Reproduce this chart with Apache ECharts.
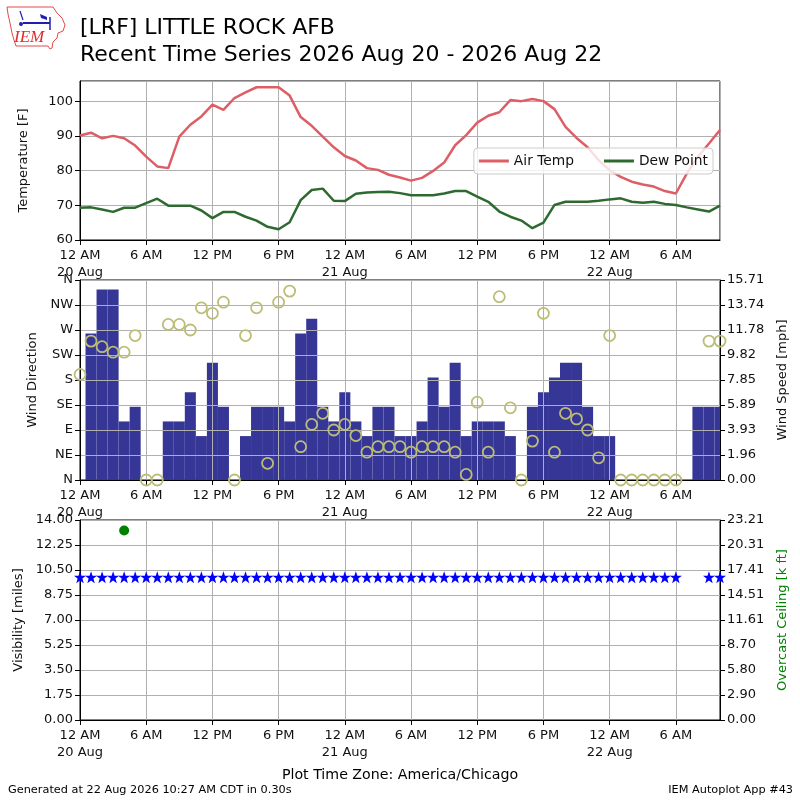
<!DOCTYPE html>
<html>
<head>
<meta charset="utf-8">
<script src="https://cdn.jsdelivr.net/npm/echarts@6/dist/echarts.min.js"></script>
<style>
  html, body { margin: 0; background: #fff; }
  #chart { width: 800px; height: 800px; }
</style>
</head>
<body>
<div id="chart"></div>
<script>
// hours since 12 AM 20 Aug (America/Chicago)
const hours = [0, 1, 2, 3, 4, 5, 6, 7, 8, 9, 10, 11, 12, 13, 14, 15, 16, 17, 18, 19,
  20, 21, 22, 23, 24, 25, 26, 27, 28, 29, 30, 31, 32, 33, 34, 35, 36, 37, 38, 39,
  40, 41, 42, 43, 44, 45, 46, 47, 48, 49, 50, 51, 52, 53, 54, 55, 56, 57, 58]

const airTemp = [90.1, 90.9, 89.3, 90.0, 89.3, 87.2, 84.0, 81.2, 80.7, 89.8,
  93.2, 95.6, 99.0, 97.5, 100.9, 102.5, 104.0, 104.0, 104.0, 101.6,
  95.4, 92.9, 89.8, 86.7, 84.2, 82.9, 80.7, 80.2, 78.8, 78.0,
  77.1, 77.9, 79.9, 82.3, 87.3, 90.2, 93.8, 95.8, 96.8, 100.3,
  100.0, 100.6, 100.0, 97.7, 92.6, 89.4, 86.7, 83.0, 80.1, 78.2,
  76.8, 76.0, 75.4, 74.1, 73.4, 79.2, 84.0, 87.8, 91.7]

const dewPoint = [69.3, 69.4, 68.8, 68.1, 69.3, 69.3, 70.6, 71.9, 69.9, 69.9,
  69.9, 68.5, 66.3, 68.1, 68.1, 66.7, 65.6, 63.8, 63.1, 65.1,
  71.5, 74.4, 74.8, 71.3, 71.2, 73.3, 73.7, 73.8, 73.9, 73.5,
  72.9, 72.9, 72.9, 73.4, 74.1, 74.1, 72.5, 71.0, 68.2, 66.7,
  65.6, 63.4, 65.0, 70.1, 71.0, 71.0, 71.0, 71.3, 71.7, 72.0,
  71.0, 70.7, 71.0, 70.4, 70.1, 69.4, 68.8, 68.2, 69.9]

// mph
const windSpeed = [0, 11.51, 14.96, 14.96, 4.6, 5.75, 0, 0, 4.6, 4.6,
  6.9, 3.45, 9.21, 5.75, 0, 3.45, 5.75, 5.75, 5.75, 4.6,
  11.51, 12.66, 5.75, 4.6, 6.9, 4.6, 3.45, 5.75, 5.75, 3.45,
  3.45, 4.6, 8.06, 5.75, 9.21, 3.45, 4.6, 4.6, 4.6, 3.45,
  0, 5.75, 6.9, 8.06, 9.21, 9.21, 5.75, 3.45, 3.45, 0,
  0, 0, 0, 0, 0, null, 5.75, 5.75, 5.75]

// degrees
const windDir = [190, 250, 240, 230, 230, 260, 0, 0, 280, 280,
  270, 310, 300, 320, 0, 260, 310, 30, 320, 340,
  60, 100, 120, 90, 100, 80, 50, 60, 60, 60,
  50, 60, 60, 60, 50, 10, 140, 50, 330, 130,
  0, 70, 300, 50, 120, 110, 90, 40, 260, 0,
  0, 0, 0, 0, 0, null, null, 250, 250]

// miles
const visibility = [10, 10, 10, 10, 10, 10, 10, 10, 10, 10,
  10, 10, 10, 10, 10, 10, 10, 10, 10, 10,
  10, 10, 10, 10, 10, 10, 10, 10, 10, 10,
  10, 10, 10, 10, 10, 10, 10, 10, 10, 10,
  10, 10, 10, 10, 10, 10, 10, 10, 10, 10,
  10, 10, 10, 10, 10, null, null, 10, 10]

// overcast ceiling, k ft
const ceilingHours = [4]
const ceilingValues = [22.0]

const timeTicks = ['12 AM\n20 Aug', '6 AM', '12 PM', '6 PM', '12 AM\n21 Aug', '6 AM',
  '12 PM', '6 PM', '12 AM\n22 Aug', '6 AM']
const tempTicks = ['60', '70', '80', '90', '100']
const dirTicks = ['N', 'NE', 'E', 'SE', 'S', 'SW', 'W', 'NW', 'N']
const speedTicks = ['0.00', '1.96', '3.93', '5.89', '7.85', '9.82', '11.78', '13.74', '15.71']
const visTicks = ['0.00', '1.75', '3.50', '5.25', '7.00', '8.75', '10.50', '12.25', '14.00']
const ceilTicks = ['0.00', '2.90', '5.80', '8.70', '11.61', '14.51', '17.41', '20.31', '23.21']

const FONT = 'DejaVu Sans'
const GRIDLINE = '#b0b0b0'
const BAR_COLOR = '#363697'

const pairs = arr => hours.map((h, i) => [h, arr[i]]).filter(p => p[1] != null)

// label lookup for ticks sitting on multiples of step
const tickFmt = (labels, step, offset = 0) => v => {
  const i = Math.round((v - offset) / step)
  return Math.abs(v - offset - i * step) < 1e-6 && labels[i] != null ? labels[i] : ''
}

const chart = echarts.init(document.getElementById('chart'))

const grids = [
  { left: 80, right: 80, top: 81, height: 159 },
  { left: 80, right: 80, top: 280, height: 200 },
  { left: 80, right: 80, top: 520, height: 200 }
].map(g => ({ ...g, show: true, borderColor: '#000', borderWidth: 1, backgroundColor: 'transparent', outerBoundsMode: 'none' }))

const xAxes = [0, 1, 2].map(i => ({
  type: 'value',
  gridIndex: i,
  min: 0,
  max: 58,
  interval: 6,
  z: i === 1 ? 3 : 0,
  axisLine: { show: true, onZero: false, lineStyle: { color: '#000', width: 1 } },
  axisTick: { show: true, length: 5, lineStyle: { color: '#000' } },
  splitLine: { show: true, lineStyle: { color: GRIDLINE, width: 1 } },
  axisLabel: {
    color: '#111', fontFamily: FONT, fontSize: 13, margin: 7, lineHeight: 17,
    showMaxLabel: false,
    formatter: tickFmt(timeTicks, 6)
  }
}))

const yBase = (extra) => ({
  type: 'value',
  axisLine: { show: true, lineStyle: { color: '#000', width: 1 } },
  axisTick: { show: true, length: 5, lineStyle: { color: '#000' } },
  nameLocation: 'middle',
  nameTextStyle: { color: '#111', fontFamily: FONT, fontSize: 13 },
  ...extra,
  axisLabel: { color: '#111', fontFamily: FONT, fontSize: 13, margin: 7, ...(extra.axisLabel || {}) }
})

const yAxes = [
  yBase({
    gridIndex: 0, min: 60, max: 105.8, interval: 10, position: 'left',
    name: 'Temperature [F]', nameGap: 50,
    splitLine: { show: true, lineStyle: { color: GRIDLINE } },
    axisLabel: { formatter: tickFmt(tempTicks, 10, 60), showMaxLabel: false }
  }),
  yBase({
    gridIndex: 1, min: 0, max: 360, interval: 45, position: 'left', z: 3,
    name: 'Wind Direction', nameGap: 37,
    splitLine: { show: true, lineStyle: { color: GRIDLINE } },
    axisLabel: { formatter: tickFmt(dirTicks, 45) }
  }),
  yBase({
    gridIndex: 1, min: 0, max: 15.71, interval: 1.96375, position: 'right', z: 3,
    name: 'Wind Speed [mph]', nameGap: 56,
    splitLine: { show: false },
    axisLabel: { formatter: tickFmt(speedTicks, 1.96375) }
  }),
  yBase({
    gridIndex: 2, min: 0, max: 14, interval: 1.75, position: 'left',
    name: 'Visibility [miles]', nameGap: 54,
    splitLine: { show: true, lineStyle: { color: GRIDLINE } },
    axisLabel: { formatter: tickFmt(visTicks, 1.75) }
  }),
  yBase({
    gridIndex: 2, min: 0, max: 23.21, interval: 2.90125, position: 'right',
    name: 'Overcast Ceiling [k ft]', nameGap: 56,
    nameTextStyle: { color: '#008000', fontFamily: FONT, fontSize: 13 },
    splitLine: { show: false },
    axisLabel: { formatter: tickFmt(ceilTicks, 2.90125) }
  })
]

const STAR = 'path://M0,-10 L2.35,-3.24 L9.51,-3.09 L3.8,1.24 L5.88,8.09 L0,4 L-5.88,8.09 L-3.8,1.24 L-9.51,-3.09 L-2.35,-3.24 Z'

// hourly wind speed bars, one hour wide, clipped to the panel
const renderSpeedBar = (params, api) => {
  const h = api.value(0)
  const v = api.value(1)
  const top = api.coord([h - 0.5, v])
  const bottom = api.coord([h + 0.5, 0])
  const cs = params.coordSys
  const rect = echarts.graphic.clipRectByRect(
    { x: top[0], y: top[1], width: bottom[0] - top[0], height: bottom[1] - top[1] },
    { x: cs.x, y: cs.y, width: cs.width, height: cs.height }
  )
  return rect && { type: 'rect', shape: rect, style: { fill: BAR_COLOR } }
}

const series = [
  {
    name: 'Air Temp', type: 'line', xAxisIndex: 0, yAxisIndex: 0,
    data: pairs(airTemp), showSymbol: false, connectNulls: true,
    lineStyle: { color: '#dd5e66', width: 2.5 }, itemStyle: { color: '#dd5e66' }
  },
  {
    name: 'Dew Point', type: 'line', xAxisIndex: 0, yAxisIndex: 0,
    data: pairs(dewPoint), showSymbol: false, connectNulls: true,
    lineStyle: { color: '#2e6a30', width: 2.5 }, itemStyle: { color: '#2e6a30' }
  },
  {
    name: 'speed', type: 'custom', xAxisIndex: 1, yAxisIndex: 2,
    data: pairs(windSpeed), renderItem: renderSpeedBar, encode: { x: 0, y: 1 }, z: 2
  },
  {
    name: 'direction', type: 'scatter', xAxisIndex: 1, yAxisIndex: 1,
    data: pairs(windDir), symbol: 'circle', symbolSize: 11, z: 5,
    itemStyle: { color: 'transparent', borderColor: '#bdbd78', borderWidth: 1.8, opacity: 1 }
  },
  {
    name: 'visibility', type: 'scatter', xAxisIndex: 2, yAxisIndex: 3,
    data: pairs(visibility), symbol: STAR, symbolSize: 12,
    itemStyle: { color: '#0000ff', opacity: 1 }
  },
  {
    name: 'ceiling', type: 'scatter', xAxisIndex: 2, yAxisIndex: 4,
    data: ceilingHours.map((h, i) => [h, ceilingValues[i]]), symbol: 'circle', symbolSize: 10,
    itemStyle: { color: '#008000', opacity: 1 }
  }
]

const text = (x, y, str, size, extra = {}) => ({
  type: 'text', x, y,
  style: { text: str, fontFamily: FONT, fontSize: size, fill: '#000', verticalAlign: 'middle', ...extra }
})

const graphic = [
  // IEM logo, rough
  {
    type: 'polygon',
    shape: { points: [[7, 7], [53, 7], [57, 13], [62, 18], [65, 25], [63, 31], [58, 33], [57, 38], [53, 42], [52, 48], [50, 49], [48, 46], [16, 46], [14, 40], [12, 33], [10, 23], [8, 14]] },
    style: { fill: 'none', stroke: '#e34a4a', lineWidth: 1 }
  },
  { type: 'line', shape: { x1: 23, y1: 23, x2: 50, y2: 23 }, style: { stroke: '#2020b0', lineWidth: 2 } },
  { type: 'line', shape: { x1: 50, y1: 17, x2: 50, y2: 30 }, style: { stroke: '#2020b0', lineWidth: 1.5 } },
  { type: 'polygon', shape: { points: [[40, 14], [47, 17], [47, 20], [41, 18]] }, style: { fill: '#2020b0' } },
  { type: 'line', shape: { x1: 20, y1: 11, x2: 23, y2: 20 }, style: { stroke: '#2020b0', lineWidth: 1.2 } },
  { type: 'circle', shape: { cx: 21, cy: 24, r: 2 }, style: { fill: '#2020b0' } },
  text(14, 38, 'IEM', 17, { fill: '#e02a2a', fontFamily: 'Liberation Serif', fontStyle: 'italic' }),
  // titles
  text(80, 28, '[LRF] LITTLE ROCK AFB', 22),
  text(80, 55, 'Recent Time Series 2026 Aug 20 - 2026 Aug 22', 22),
  // footer
  text(400, 775, 'Plot Time Zone: America/Chicago', 14.2, { align: 'center' }),
  text(8, 790, 'Generated at 22 Aug 2026 10:27 AM CDT in 0.30s', 11.3),
  text(793, 790, 'IEM Autoplot App #43', 11.3, { align: 'right' })
]

chart.setOption({
  animation: false,
  backgroundColor: '#fff',
  grid: grids,
  xAxis: xAxes,
  yAxis: yAxes,
  legend: {
    data: ['Air Temp', 'Dew Point'],
    right: 87, top: 148,
    icon: 'rect', itemWidth: 30, itemHeight: 3, itemGap: 30,
    padding: [6, 5, 6, 5],
    backgroundColor: 'rgba(255,255,255,0.8)',
    borderColor: '#cccccc', borderWidth: 1, borderRadius: 4,
    textStyle: { color: '#111', fontFamily: FONT, fontSize: 13.8 }
  },
  series,
  graphic
})
</script>
</body>
</html>
